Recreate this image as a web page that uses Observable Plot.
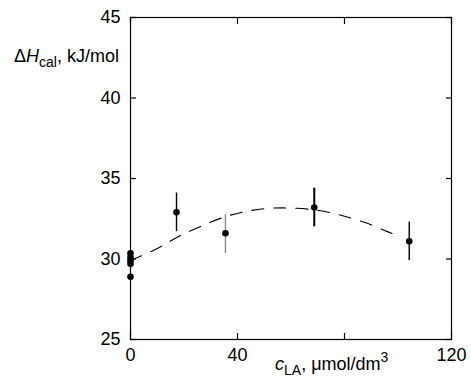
<!DOCTYPE html>
<html><head><meta charset="utf-8">
<script src="https://cdn.jsdelivr.net/npm/d3@7"></script>
<script src="https://cdn.jsdelivr.net/npm/@observablehq/plot@0.6"></script>
<style>body{margin:0;background:#fff}</style>
</head><body><div id="chart"></div>
<script>
// Data
const xTicks = [0, 40, 80, 120];
const xTickLabels = [0, 40, 120];
const yTicks = [25, 30, 35, 40, 45];

const conc    = [0, 0, 0, 0, 0, 17.2, 35.5, 68.7, 104.2];
const dH      = [30.35, 30.1, 29.9, 29.7, 28.9, 32.9, 31.6, 33.2, 31.1];
const errLow  = [30.35, 30.1, 29.9, 29.7, 28.9, 31.7, 30.35, 32.0, 29.9];
const errHigh = [30.35, 30.1, 29.9, 29.7, 28.9, 34.1, 32.75, 34.4, 32.3];

const fitX = [0, 10, 18, 26, 34, 43, 52, 62, 71, 79, 88, 96, 100];
const fitY = [29.9, 30.65, 31.4, 32.0, 32.55, 32.95, 33.15, 33.15, 33.0, 32.7, 32.25, 31.7, 31.45];

const points = conc.map((c, i) => ({c, h: dH[i], lo: errLow[i], hi: errHigh[i], i}));
const fit = fitX.map((x, i) => ({x, y: fitY[i]}));

const font = "Arial, 'Liberation Sans', sans-serif";

const chart = Plot.plot({
  width: 471,
  height: 378,
  marginLeft: 130,
  marginRight: 20,
  marginTop: 17,
  marginBottom: 39,
  style: {fontFamily: font, fontSize: "18px", color: "#000", background: "#fff"},
  x: {domain: [0, 120]},
  y: {domain: [25, 45]},
  marks: [
    Plot.line(fit, {x: "x", y: "y", curve: "catmull-rom", stroke: "#000", strokeWidth: 1.1, strokeDasharray: "12,10"}),
    Plot.ruleX(points.filter(d => d.hi > d.lo), {
      x: "c", y1: "lo", y2: "hi",
      stroke: d => d.c > 30 && d.c < 40 ? "#888" : "#000",
      strokeWidth: d => d.c > 60 && d.c < 80 ? 2 : 1.4
    }),
    Plot.dot(points, {x: "c", y: "h", r: 3.3, fill: "#000", stroke: null}),
    Plot.frame({stroke: "#000", strokeWidth: 1.2}),
    // inward tick marks on all four sides
    Plot.axisY(yTicks, {anchor: "left", tickSize: 6, dx: 6, text: null, label: null, strokeWidth: 1.2}),
    Plot.axisY(yTicks, {anchor: "right", tickSize: 6, dx: -6, text: null, label: null, strokeWidth: 1.2}),
    Plot.axisX(xTicks, {anchor: "bottom", tickSize: 6, dy: -6, text: null, label: null, strokeWidth: 1.2}),
    Plot.axisX(xTicks, {anchor: "top", tickSize: 6, dy: 6, text: null, label: null, strokeWidth: 1.2}),
    // tick labels
    Plot.axisY(yTicks, {anchor: "left", tickSize: 0, tickPadding: 10, label: null, fontSize: 18}),
    Plot.axisX(xTickLabels, {anchor: "bottom", tickSize: 0, tickPadding: 9, label: null, fontSize: 18})
  ]
});

document.getElementById("chart").appendChild(chart);

// Axis titles with sub/superscripts
const svg = d3.select(chart);
const yl = svg.append("text")
  .attr("x", 119).attr("y", 62)
  .attr("text-anchor", "end")
  .style("font-family", font).style("font-size", "18px").attr("fill", "#000");
yl.append("tspan").text("Δ");
yl.append("tspan").attr("font-style", "italic").text("H");
yl.append("tspan").attr("dy", 5).style("font-size", "14px").text("cal");
yl.append("tspan").attr("dy", -5).text(", kJ/mol");

const xl = svg.append("text")
  .attr("x", 275).attr("y", 370)
  .attr("text-anchor", "start")
  .style("font-family", font).style("font-size", "18px").attr("fill", "#000");
xl.append("tspan").attr("font-style", "italic").text("c");
xl.append("tspan").attr("dy", 5).style("font-size", "14px").text("LA");
xl.append("tspan").attr("dy", -5).text(", μmol/dm");
xl.append("tspan").attr("dy", -8).style("font-size", "14px").text("3");
</script>
</body></html>
